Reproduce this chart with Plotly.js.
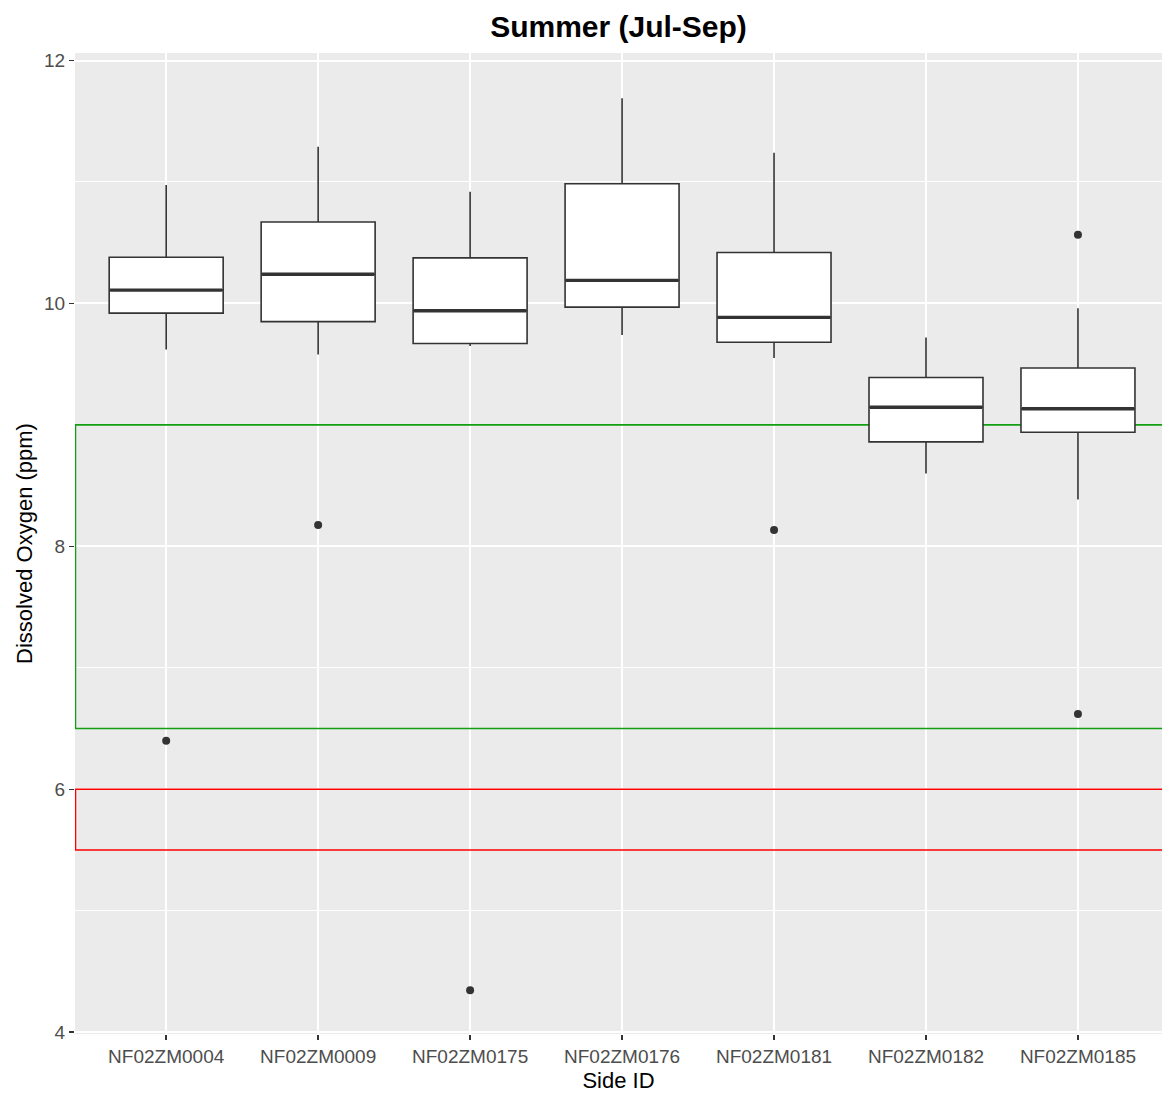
<!DOCTYPE html>
<html>
<head>
<meta charset="utf-8">
<script src="https://cdn.plot.ly/plotly-3.0.1.min.js"></script>
<style>html,body{margin:0;padding:0;background:#fff;}#chart{width:1162px;height:1094px;}</style>
</head>
<body>
<div id="chart"></div>
<script>
const sites = ["NF02ZM0004","NF02ZM0009","NF02ZM0175","NF02ZM0176","NF02ZM0181","NF02ZM0182","NF02ZM0185"];
const lowerWhisker = [9.62, 9.58, 9.65, 9.74, 9.55, 8.60, 8.385];
const q1Values     = [9.92, 9.85, 9.67, 9.97, 9.68, 8.86, 8.94];
const medians      = [10.11, 10.24, 9.94, 10.19, 9.885, 9.145, 9.133];
const q3Values     = [10.38, 10.67, 10.375, 10.985, 10.42, 9.39, 9.468];
const upperWhisker = [10.975, 11.29, 10.92, 11.69, 11.24, 9.72, 9.96];
const outlierSites  = ["NF02ZM0004","NF02ZM0009","NF02ZM0175","NF02ZM0181","NF02ZM0185","NF02ZM0185"];
const outlierValues = [6.40, 8.175, 4.345, 8.135, 10.565, 6.62];
const yTicks = [4, 6, 8, 10, 12];
const optimalBand = [6.5, 9];
const criticalBand = [5.5, 6];

const boxWidth = 0.75;
const dark = "#333333";
const xRange = [-0.6, 6.553];

const boxTrace = {
  type: "box",
  x: sites,
  q1: q1Values,
  median: medians,
  q3: q3Values,
  lowerfence: lowerWhisker,
  upperfence: upperWhisker,
  width: boxWidth,
  whiskerwidth: 0,
  fillcolor: "#ffffff",
  line: {color: dark, width: 1.6},
  boxpoints: false,
  hoverinfo: "skip",
  showlegend: false
};

// thicker median segments (ggplot draws the median line heavier), on a linear twin x axis
const medX = [], medY = [];
sites.forEach((s, i) => {
  medX.push(i - boxWidth / 2 + 0.006, i + boxWidth / 2 - 0.006, null);
  medY.push(medians[i], medians[i], null);
});
const medianTrace = {
  type: "scatter", mode: "lines", x: medX, y: medY,
  line: {color: dark, width: 3.4}, hoverinfo: "skip", showlegend: false,
  xaxis: "x2", yaxis: "y"
};

const outlierTrace = {
  type: "scatter", mode: "markers", x: outlierSites, y: outlierValues,
  marker: {color: dark, size: 8}, hoverinfo: "skip", showlegend: false
};

const font = "Liberation Sans, Arial, sans-serif";

const layout = {
  width: 1162, height: 1094,
  margin: {l: 75, r: 0, t: 53, b: 60},
  paper_bgcolor: "#ffffff",
  plot_bgcolor: "#EBEBEB",
  showlegend: false,
  title: {
    text: "<b>Summer (Jul-Sep)</b>",
    font: {family: font, size: 30, color: "#000000"},
    x: 0.5, xref: "paper", xanchor: "center",
    y: 1 - 26 / 1094, yref: "container", yanchor: "middle"
  },
  xaxis: {
    type: "category",
    categoryorder: "array", categoryarray: sites,
    range: xRange,
    showgrid: true, gridcolor: "#ffffff", gridwidth: 2,
    zeroline: false, showline: false,
    ticks: "outside", ticklen: 5, tickwidth: 1.5, tickcolor: dark,
    tickfont: {family: font, size: 19, color: "#4D4D4D"},
    title: {text: "Side ID", font: {family: font, size: 22, color: "#000000"}, standoff: 6}
  },
  xaxis2: {
    type: "linear", overlaying: "x", range: xRange,
    visible: false, showgrid: false, zeroline: false
  },
  yaxis: {
    range: [3.985, 12.062],
    tickvals: yTicks,
    ticktext: yTicks.map(String),
    showgrid: true, gridcolor: "#ffffff", gridwidth: 2,
    minor: {dtick: 1, tick0: 5, showgrid: true, gridcolor: "#ffffff", gridwidth: 1, ticks: ""},
    zeroline: false, showline: false,
    ticks: "outside", ticklen: 5, tickwidth: 1.5, tickcolor: dark,
    tickfont: {family: font, size: 19, color: "#4D4D4D"},
    title: {text: "Dissolved Oxygen (ppm)", font: {family: font, size: 22, color: "#000000"}, standoff: 5}
  },
  shapes: [
    {type: "rect", xref: "x", yref: "y", x0: -0.597, x1: 7, y0: optimalBand[0], y1: optimalBand[1],
     line: {color: "#12A012", width: 1.6}, fillcolor: "rgba(0,0,0,0)", layer: "between"},
    {type: "rect", xref: "x", yref: "y", x0: -0.597, x1: 7, y0: criticalBand[0], y1: criticalBand[1],
     line: {color: "#FF0000", width: 1.6}, fillcolor: "rgba(0,0,0,0)", layer: "between"}
  ]
};

Plotly.newPlot("chart", [boxTrace, medianTrace, outlierTrace], layout, {displayModeBar: false, staticPlot: true});
</script>
</body>
</html>
